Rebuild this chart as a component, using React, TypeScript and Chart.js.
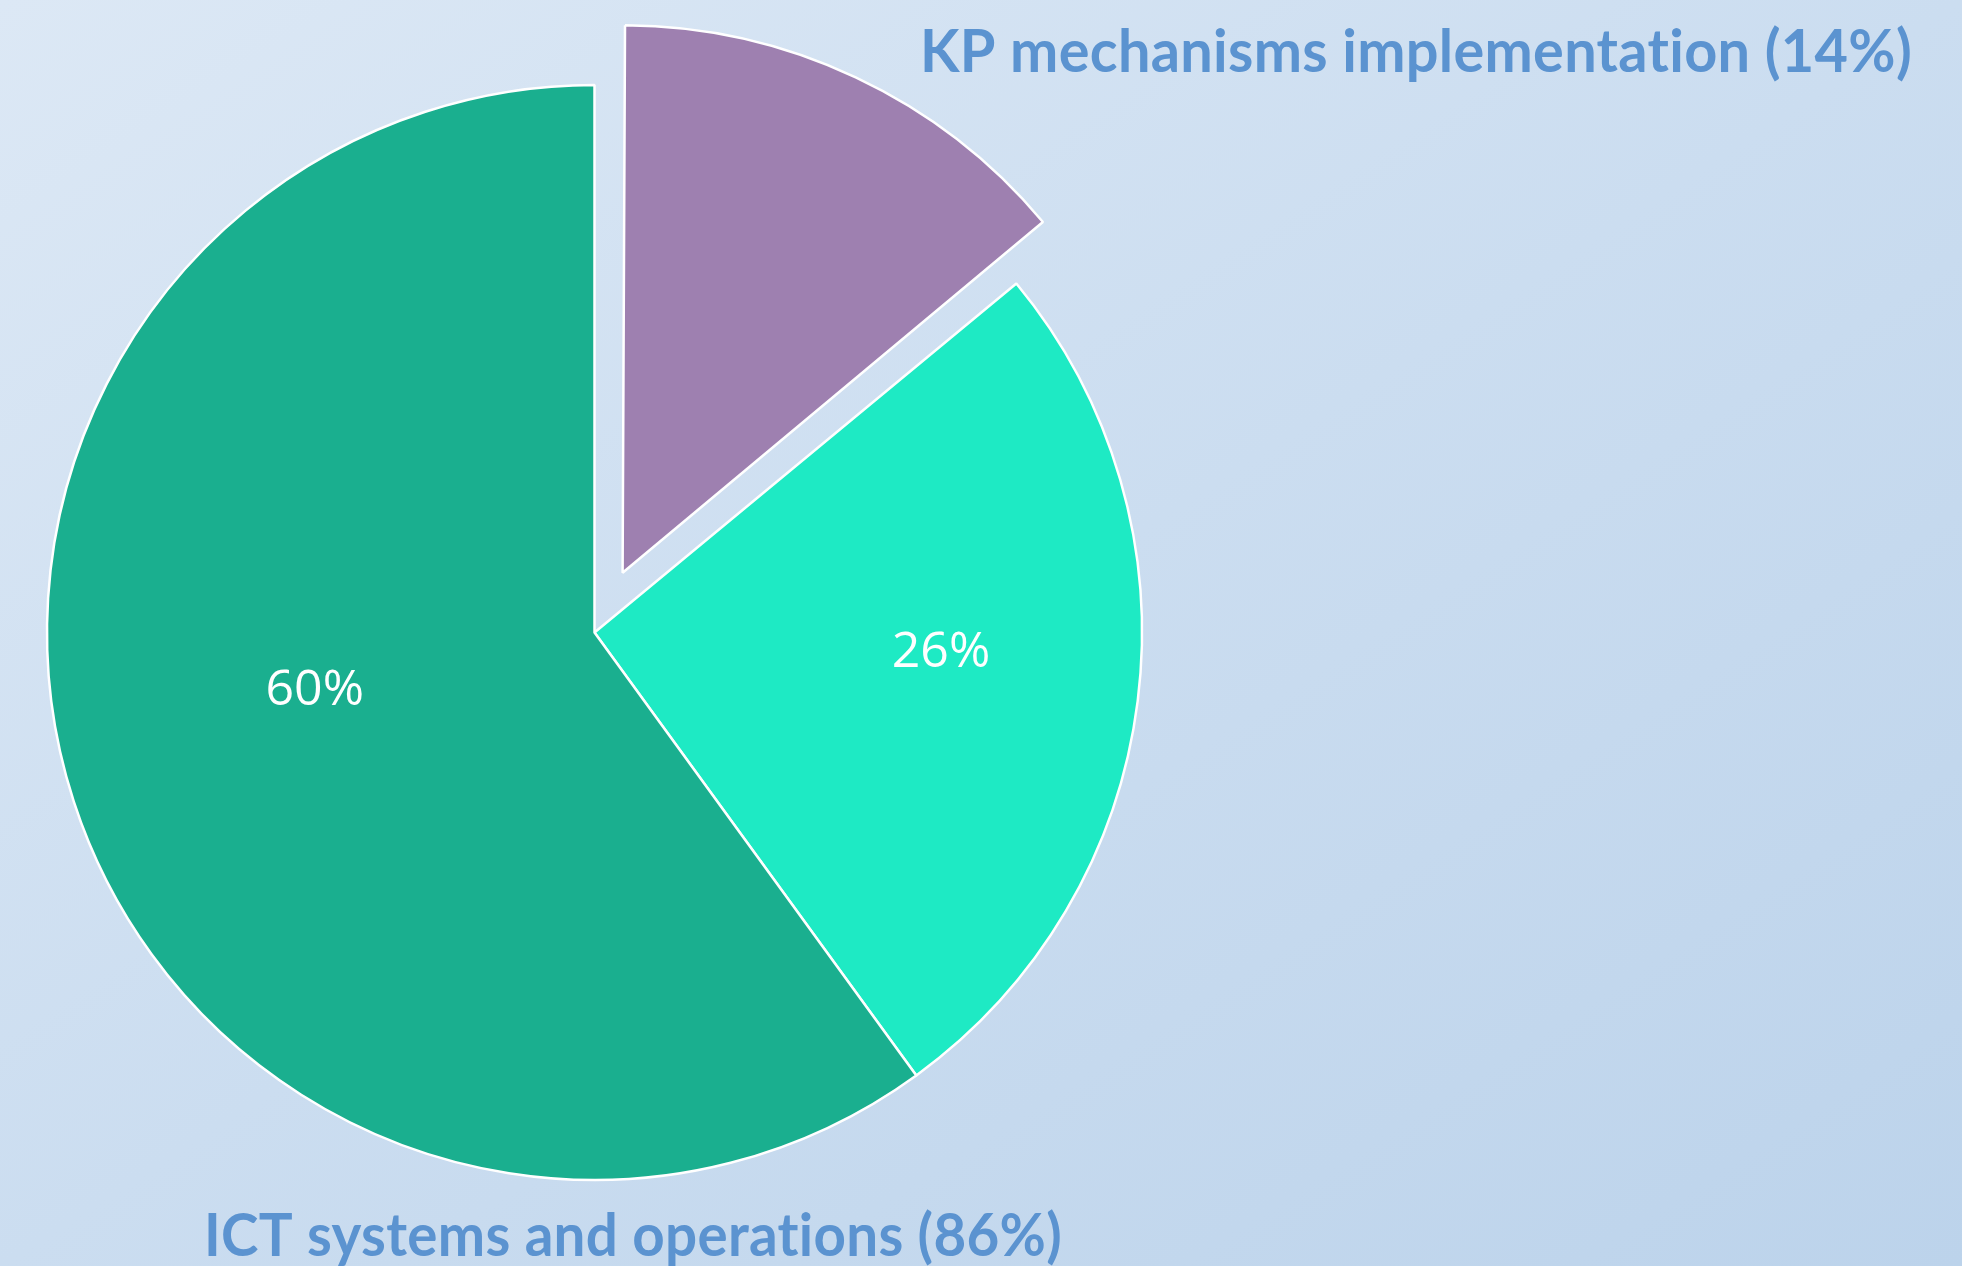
import { useEffect, useRef } from "react";
import { Chart, registerables } from "chart.js";

Chart.register(...registerables);

// ---- data ----
const categories = [
  "KP mechanisms implementation",
  "ICT systems and operations (part A)",
  "ICT systems and operations (part B)",
];
const values = [14, 26, 60];
const sliceColors = ["#9e80b0", "#1eeac4", "#1aaf8f"];
const sliceLabels = ["", "26%", "60%"];
const groupLabels = ["KP mechanisms implementation (14%)", "ICT systems and operations (86%)"];

const W = 1962;
const H = 1266;
const RADIUS = 547.5;
const EXPLODE = 264; // chart.js translates by offset / 4

const explodeFix = {
  id: "explodeFix",
  beforeDatasetsDraw(chart: any) {
    const meta = chart.getDatasetMeta(0);
    meta.data.forEach((arc: any) => {
      const off = (arc.options && arc.options.offset) || 0;
      const circ = arc.endAngle - arc.startAngle;
      const fix = 1 - Math.sin(Math.min(Math.PI, circ));
      arc.outerRadius = RADIUS - (off / 4) * fix;
    });
  },
};

const textPlugin = {
  id: "textPlugin",
  afterDraw(chart: any) {
    const ctx = chart.ctx as any;
    const meta = chart.getDatasetMeta(0);
    const polar = [
      { d: 0, f: 0 },
      { d: -3.8, f: 0.634 },
      { d: 6.2, f: 0.522 },
    ];
    ctx.save();
    ctx.fillStyle = "#ffffff";
    ctx.font = "50px 'Open Sans'";
    ctx.textAlign = "center";
    ctx.textBaseline = "middle";
    meta.data.forEach((arc: any, i: number) => {
      if (!sliceLabels[i]) return;
      const mid = (arc.startAngle + arc.endAngle) / 2 + (polar[i].d * Math.PI) / 180;
      const r = RADIUS * polar[i].f;
      ctx.fillText(sliceLabels[i], arc.x + Math.cos(mid) * r, arc.y + Math.sin(mid) * r);
    });

    // group labels
    ctx.fillStyle = "#5b93d0";
    ctx.font = "bold 60px Lato";
    ctx.letterSpacing = "0.3px";
    ctx.textAlign = "left";
    ctx.textBaseline = "alphabetic";
    const place = [
      { x: 920, w: 992, y: 72 },
      { x: 204, w: 858, y: 1256 },
    ];
    groupLabels.forEach((t, i) => {
      const p = place[i];
      const m = ctx.measureText(t).width;
      ctx.save();
      ctx.translate(p.x, p.y);
      ctx.scale(p.w / m, 1);
      ctx.fillText(t, 0, 0);
      ctx.restore();
    });
    ctx.restore();
  },
};

export default function App() {
  const ref = useRef<HTMLCanvasElement | null>(null);
  useEffect(() => {
    if (!ref.current) return;
    const chart = new Chart(ref.current, {
      type: "pie",
      data: {
        labels: categories,
        datasets: [
          {
            data: values,
            backgroundColor: sliceColors,
            borderColor: "#ffffff",
            borderWidth: 2.5,
            offset: values.map((_, i) => (i === 0 ? EXPLODE : 0)),
          },
        ],
      },
      options: {
        animation: false,
        responsive: false,
        maintainAspectRatio: false,
        devicePixelRatio: 1,
        events: [],
        radius: RADIUS,
        rotation: 0,
        layout: { padding: { left: 0, right: W - 1189, top: 0, bottom: 1 } },
        plugins: {
          legend: { display: false },
          tooltip: { enabled: false },
          title: { display: false },
        },
      },
      plugins: [explodeFix, textPlugin],
    });
    return () => chart.destroy();
  }, []);
  return (
    <div
      style={{
        position: "fixed",
        left: 0,
        top: 0,
        width: W,
        height: H,
        overflow: "hidden",
        background: "linear-gradient(to bottom right, #dce8f5 0%, #cbddf0 50%, #bcd3eb 100%)",
      }}
    >
      <canvas ref={ref} width={W} height={H} style={{ display: "block", width: W, height: H }} />
    </div>
  );
}
